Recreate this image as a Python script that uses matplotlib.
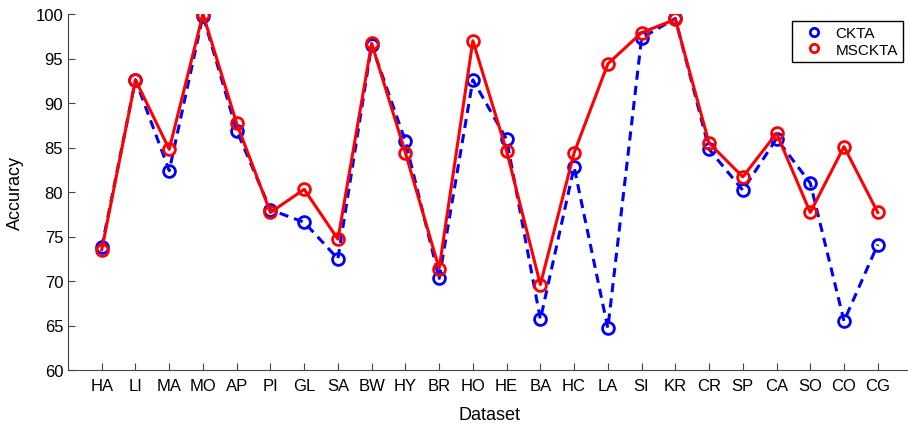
import numpy as np
import matplotlib.pyplot as plt

plt.rcParams["font.family"] = ["Liberation Sans", "DejaVu Sans"]

datasets = ["HA", "LI", "MA", "MO", "AP", "PI", "GL", "SA", "BW", "HY", "BR", "HO",
            "HE", "BA", "HC", "LA", "SI", "KR", "CR", "SP", "CA", "SO", "CO", "CG"]
ckta = [73.8, 92.6, 82.4, 99.8, 86.9, 78.0, 76.6, 72.5, 96.5, 85.7, 70.3, 92.6,
        85.9, 65.7, 82.8, 64.7, 97.3, 99.5, 84.8, 80.2, 86.0, 81.0, 65.5, 74.1]
mscka = [73.5, 92.6, 84.8, 100.0, 87.7, 77.7, 80.3, 74.7, 96.7, 84.4, 71.4, 97.0,
         84.6, 69.6, 84.4, 94.4, 97.9, 99.4, 85.5, 81.7, 86.6, 77.7, 85.1, 77.7]

x = np.arange(1, len(ckta) + 1)

fig = plt.figure(figsize=(9.08, 4.31), dpi=100)
ax = fig.add_axes([68 / 908, 1 - 371 / 431, 843.5 / 908, 356 / 431])

ax.plot(x, ckta, "b--", linewidth=2.2, marker="o", markersize=8.5,
        markerfacecolor="none", markeredgewidth=2.0, label="CKTA", dashes=(3, 2))
ax.plot(x, mscka, "r-", linewidth=2.2, marker="o", markersize=8.5,
        markerfacecolor="none", markeredgewidth=2.0, label="MSCKTA")

ax.set_xlim(0, 25)
ax.set_ylim(60, 100)
ax.set_xticks(x)
ax.set_xticklabels(datasets)
ax.set_yticks(np.arange(60, 101, 5))
ax.tick_params(direction="in", length=5, labelsize=12, color="#444444")
ax.tick_params(axis="x", pad=6)
ax.spines["top"].set_visible(False)
ax.spines["right"].set_visible(False)
for s in ["left", "bottom"]:
    ax.spines[s].set_color("#444444")
ax.set_xlabel("Dataset", fontsize=13, labelpad=9)
ax.set_ylabel("Accuracy", fontsize=13, labelpad=8)

leg = ax.legend(loc="upper right", bbox_to_anchor=(0.99, 0.98), borderaxespad=0,
                fontsize=11, handlelength=2.2, handletextpad=0.3, borderpad=0.35,
                labelspacing=0.15, fancybox=False, framealpha=1)
leg.get_frame().set_edgecolor("black")
for h in leg.legend_handles:
    h.set_linestyle("none")
    h.set_markersize(6)

fig.savefig("out.png", dpi=100)
